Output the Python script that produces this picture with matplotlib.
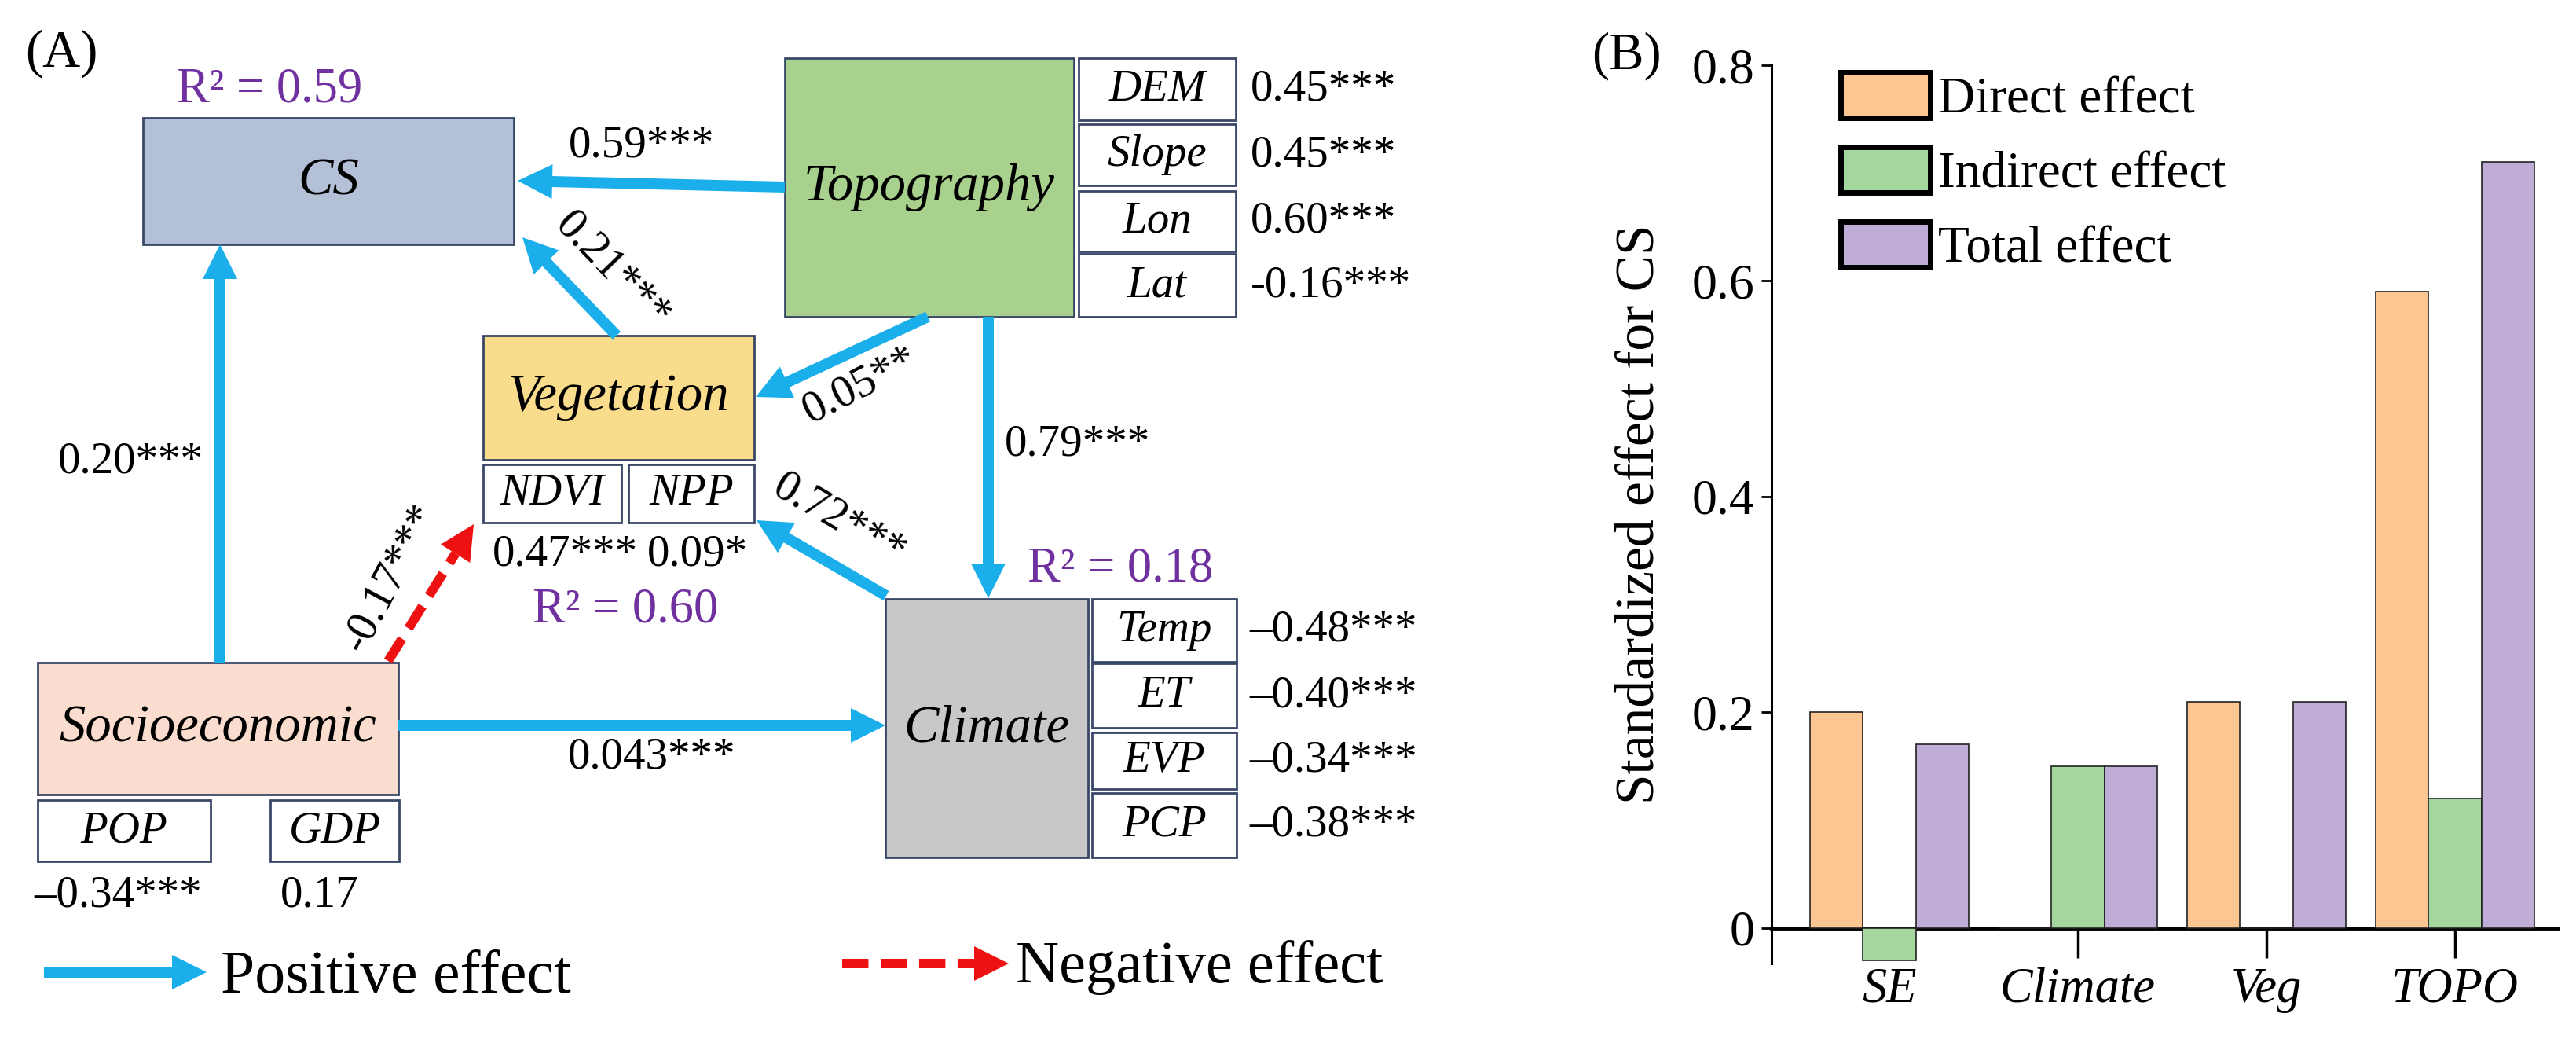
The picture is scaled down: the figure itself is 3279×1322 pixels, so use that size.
import numpy as np
import matplotlib
matplotlib.use('Agg')
import matplotlib.pyplot as plt
from matplotlib.patches import Rectangle, Patch, Polygon

plt.rcParams['font.family'] = ['Liberation Serif', 'DejaVu Serif']

# ---- panel A: path model ----
node_names = ['CS', 'Topography', 'Vegetation', 'Socioeconomic', 'Climate']
topo_vars = ['DEM', 'Slope', 'Lon', 'Lat']
topo_loads = ['0.45***', '0.45***', '0.60***', '-0.16***']
clim_vars = ['Temp', 'ET', 'EVP', 'PCP']
clim_loads = ['\u20130.48***', '\u20130.40***', '\u20130.34***', '\u20130.38***']
veg_vars = ['NDVI', 'NPP']
veg_loads = ['0.47***', '0.09*']
se_vars = ['POP', 'GDP']
se_loads = ['\u20130.34***', '0.17']
r2_values = {'CS': '0.59', 'Vegetation': '0.60', 'Climate': '0.18'}
# source, target, coefficient, sign
paths = [
    ('Topography', 'CS', '0.59***', 1),
    ('Vegetation', 'CS', '0.21***', 1),
    ('Socioeconomic', 'CS', '0.20***', 1),
    ('Topography', 'Vegetation', '0.05**', 1),
    ('Topography', 'Climate', '0.79***', 1),
    ('Climate', 'Vegetation', '0.72***', 1),
    ('Socioeconomic', 'Climate', '0.043***', 1),
    ('Socioeconomic', 'Vegetation', '-0.17***', -1),
]

# ---- panel B: effects ----
groups = ['SE', 'Climate', 'Veg', 'TOPO']
direct = [0.20, 0.0, 0.21, 0.59]
indirect = [-0.03, 0.15, 0.0, 0.12]
total = [0.17, 0.15, 0.21, 0.71]

BLUE = '#1AAFEA'
RED = '#EE1111'
PURPLE = '#7030A0'
EDGE = '#3A4868'

# layout of the diagram (pixel space of panel A)
boxes = {
    'CS': (182, 150, 654, 311, '#B4C0D5'),
    'Topography': (999, 74, 1367, 403, '#A8D18D'),
    'Vegetation': (615, 427, 960, 585, '#F9DC8C'),
    'Socioeconomic': (48, 843, 507, 1011, '#FADDCF'),
    'Climate': (1127, 762, 1385, 1091, '#C8C8C8'),
}
topo_rows = [(74, 153), (158, 236), (243, 320), (323, 403)]
clim_rows = [(762, 842), (844, 926), (932, 1004), (1009, 1091)]
veg_cols = [(615, 791), (800, 960)]
se_cols = [(48, 268), (344, 508)]
r2_pos = {'CS': (343, 114), 'Vegetation': (796, 777), 'Climate': (1426, 724)}
arrow_xy = {
    ('Topography', 'CS'): ((999, 238), (659, 230)),
    ('Vegetation', 'CS'): ((785, 427), (665, 302)),
    ('Socioeconomic', 'CS'): ((280, 843), (280, 311)),
    ('Topography', 'Vegetation'): ((1181, 403), (962, 505)),
    ('Topography', 'Climate'): ((1258, 403), (1258, 761)),
    ('Climate', 'Vegetation'): ((1128, 758), (963, 662)),
    ('Socioeconomic', 'Climate'): ((507, 923), (1127, 923)),
    ('Socioeconomic', 'Vegetation'): ((494, 841), (603, 667)),
}
label_xy = {
    ('Topography', 'CS'): (817, 185, 0),
    ('Vegetation', 'CS'): (780, 345, -46),
    ('Socioeconomic', 'CS'): (166, 587, 0),
    ('Topography', 'Vegetation'): (1095, 491, 27),
    ('Topography', 'Climate'): (1372, 566, 0),
    ('Climate', 'Vegetation'): (1068, 662, -30),
    ('Socioeconomic', 'Climate'): (830, 963, 0),
    ('Socioeconomic', 'Vegetation'): (497, 735, 62),
}

fig = plt.figure(figsize=(32.8, 13.22), dpi=100)
axA = fig.add_axes([0, 0, 1900 / 3280, 1])
axA.set_xlim(0, 1900)
axA.set_ylim(1322, 0)
axA.axis('off')


def box(ax, x0, y0, x1, y1, fc, lw=2.0):
    ax.add_patch(Rectangle((x0, y0), x1 - x0, y1 - y0, facecolor=fc,
                           edgecolor=EDGE, lw=lw, zorder=2))


def solid_arrow(ax, p0, p1, color=BLUE):
    ax.arrow(p0[0], p0[1], p1[0] - p0[0], p1[1] - p0[1], width=14,
             head_width=44, head_length=44, length_includes_head=True,
             color=color, lw=0, zorder=3)


def dashed_arrow(ax, p0, p1, color=RED, hl=44, hw=44, lw=8.6):
    p0 = np.array(p0, float)
    p1 = np.array(p1, float)
    u = (p1 - p0) / np.hypot(*(p1 - p0))
    n = np.array([-u[1], u[0]])
    base = p1 - u * hl
    ax.plot([p0[0], base[0]], [p0[1], base[1]], color=color, lw=lw,
            ls=(0, (2.8, 1.3)), dash_capstyle='butt', zorder=3)
    ax.add_patch(Polygon([p1, base + n * hw / 2, base - n * hw / 2],
                         closed=True, color=color, lw=0, zorder=3))


for name in node_names:
    x0, y0, x1, y1, fc = boxes[name]
    box(axA, x0, y0, x1, y1, fc)
    axA.text((x0 + x1) / 2, (y0 + y1) / 2, name, fontsize=48, style='italic',
             ha='center', va='center', zorder=4)

for (y0, y1), v, l in zip(topo_rows, topo_vars, topo_loads):
    box(axA, 1373, y0, 1573, y1, 'white')
    axA.text(1473, (y0 + y1) / 2, v, fontsize=41, style='italic', ha='center', va='center', zorder=4)
    axA.text(1592, (y0 + y1) / 2, l, fontsize=41, ha='left', va='center')

for (y0, y1), v, l in zip(clim_rows, clim_vars, clim_loads):
    box(axA, 1390, y0, 1574, y1, 'white')
    axA.text(1482, (y0 + y1) / 2, v, fontsize=41, style='italic', ha='center', va='center', zorder=4)
    axA.text(1590, (y0 + y1) / 2, l, fontsize=41, ha='left', va='center')

for (x0, x1), v, l, lx in zip(veg_cols, veg_vars, veg_loads, [719, 888]):
    box(axA, x0, 591, x1, 665, 'white')
    axA.text((x0 + x1) / 2, 628, v, fontsize=41, style='italic', ha='center', va='center', zorder=4)
    axA.text(lx, 706, l, fontsize=41, ha='center', va='center')

for (x0, x1), v, l, lx in zip(se_cols, se_vars, se_loads, [150, 407]):
    box(axA, x0, 1018, x1, 1096, 'white')
    axA.text((x0 + x1) / 2, 1057, v, fontsize=41, style='italic', ha='center', va='center', zorder=4)
    axA.text(lx, 1139, l, fontsize=41, ha='center', va='center')

for name, val in r2_values.items():
    x, y = r2_pos[name]
    axA.text(x, y, 'R\u00b2 = ' + val, fontsize=45, color=PURPLE,
             ha='center', va='center')

for src, dst, coef, sign in paths:
    p0, p1 = arrow_xy[(src, dst)]
    if sign > 0:
        solid_arrow(axA, p0, p1)
    else:
        dashed_arrow(axA, p0, p1)
    lx, ly, rot = label_xy[(src, dst)]
    axA.text(lx, ly, coef, fontsize=41, rotation=rot, rotation_mode='anchor',
             ha='center', va='center', zorder=5)

axA.text(32, 68, '(A)', fontsize=48, ha='left', va='center')

# legend of panel A
solid_arrow(axA, (56, 1237), (263, 1237))
axA.text(281, 1263, 'Positive effect', fontsize=56, ha='left', va='baseline')
dashed_arrow(axA, (1072, 1226), (1284, 1226), lw=8.6)
axA.text(1293, 1250, 'Negative effect', fontsize=55, ha='left', va='baseline')

# ---- panel B ----
axB = fig.add_axes([2255 / 3280, 96 / 1322, 1001 / 3280, 1143 / 1322])
x = np.arange(len(groups))
w = 0.28
colors = ['#FCC692', '#A4D79D', '#BFADD8']
labels = ['Direct effect', 'Indirect effect', 'Total effect']
for k, (vals, c) in enumerate(zip([direct, indirect, total], colors)):
    axB.bar(x + (k - 1) * w, vals, width=w, color=c, edgecolor='#222222',
            linewidth=1.2, zorder=3)

axB.set_xlim(-0.625, 3.546)
axB.set_ylim(-0.033, 0.8)
axB.set_axisbelow(True)
axB.spines['top'].set_visible(False)
axB.spines['right'].set_visible(False)
axB.spines['bottom'].set_position(('data', 0))
axB.spines['bottom'].set_linewidth(3.5)
axB.spines['left'].set_linewidth(2.2)
axB.set_yticks([0, 0.2, 0.4, 0.6, 0.8])
axB.set_yticklabels(['0', '0.2', '0.4', '0.6', '0.8'])
axB.set_xticks(x)
axB.set_xticklabels(groups, style='italic')
axB.tick_params(axis='x', length=27, width=2.5, direction='out', pad=9, labelsize=45)
axB.tick_params(axis='y', length=9.5, width=2.0, direction='out', pad=6, labelsize=46)

axB.set_ylabel('Standardized effect for CS', fontsize=50)
axB.yaxis.set_label_coords(-0.135, 0.5)

handles = [Patch(facecolor=c, edgecolor='black', linewidth=5) for c in colors]
axB.legend(handles, labels, loc='upper left', bbox_to_anchor=(0.062, 1.015),
           frameon=False, fontsize=47, handlelength=1.75, handleheight=1.0,
           labelspacing=0.45, handletextpad=0.15, borderaxespad=0)

fig.text(2070 / 3280, 1 - 71 / 1322, '(B)', fontsize=48, ha='center', va='center')

fig.savefig('out.png', dpi=100)
